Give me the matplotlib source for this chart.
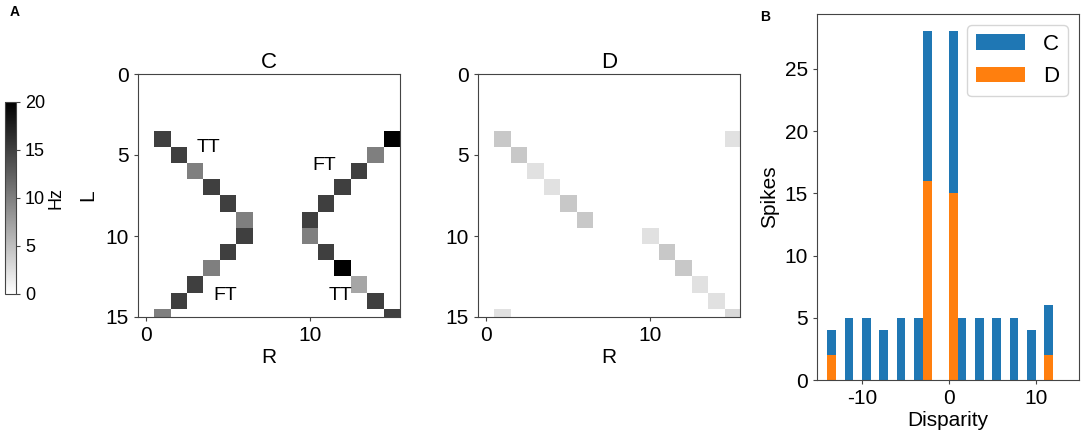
import numpy as np
import matplotlib
matplotlib.use("Agg")
import matplotlib.pyplot as plt

plt.rcParams['font.family'] = ['Liberation Sans', 'DejaVu Sans']
plt.rcParams['axes.unicode_minus'] = False

# ---- data: heatmap C (row = L, col = R, value in Hz) ----
C_rows = [4, 5, 6, 7, 8, 9, 10, 11, 12, 13, 14, 15,
          4, 5, 6, 7, 8, 9, 10, 11, 12, 13, 14, 15]
C_cols = [1, 2, 3, 4, 5, 6, 6, 5, 4, 3, 2, 1,
          15, 14, 13, 12, 11, 10, 10, 11, 12, 13, 14, 15]
C_vals = [15, 15, 10, 15, 15, 10, 15, 15, 10, 15, 15, 10,
          20, 10, 15, 15, 15, 15, 10, 15, 20, 7, 15, 15]

# ---- data: heatmap D ----
D_rows = [4, 5, 6, 7, 8, 9, 10, 11, 12, 13, 14, 15, 15, 4]
D_cols = [1, 2, 3, 4, 5, 6, 10, 11, 12, 13, 14, 15, 1, 15]
D_vals = [4.3, 4.3, 2.4, 2.4, 4.3, 4.3, 2.4, 4.3, 4.3, 2.4, 2.4, 3, 2.4, 2.4]

# ---- data: disparity histogram ----
disparity = [-14, -12, -10, -8, -6, -4, -3, 0, 1, 3, 5, 7, 9, 11]
C_spikes = [4, 5, 5, 4, 5, 5, 28, 28, 5, 5, 5, 5, 4, 6]
D_spikes = [2, 0, 0, 0, 0, 0, 16, 15, 0, 0, 0, 0, 0, 2]

N = 16
def build(rows, cols, vals):
    m = np.zeros((N, N))
    for r, c, v in zip(rows, cols, vals):
        m[r, c] = v
    return m

matC = build(C_rows, C_cols, C_vals)
matD = build(D_rows, D_cols, D_vals)

W, H = 1084, 432
fig = plt.figure(figsize=(W / 100, H / 100), dpi=100)

def fx(px):
    return px / W

def fy(py):
    return 1 - py / H

FS = 15
spine_col = '#444444'

axC = fig.add_axes([fx(138), fy(317), fx(262), (317 - 74) / H])
axD = fig.add_axes([fx(478), fy(317), fx(262), (317 - 74) / H])
axB = fig.add_axes([fx(817), fy(380), fx(262), (380 - 14) / H])
cax = fig.add_axes([fx(5), fy(294), fx(11), (294 - 102) / H])

for ax, mat, title in [(axC, matC, 'C'), (axD, matD, 'D')]:
    im = ax.imshow(mat, cmap='gray_r', vmin=0, vmax=20, aspect='auto',
                   interpolation='nearest')
    ax.set_xlim(-0.5, 15.5)
    ax.set_ylim(15, 0)
    ax.set_xticks([0, 10])
    ax.set_yticks([0, 5, 10, 15])
    ax.tick_params(labelsize=FS, length=3, color=spine_col)
    ax.set_title(title, fontsize=FS + 1, pad=4)
    ax.set_xlabel('R', fontsize=FS, labelpad=2)
    for s in ax.spines.values():
        s.set_color(spine_col)

axC.set_ylabel('L', fontsize=FS, labelpad=6)

# annotations on C
axC.text(3.8, 4.55, 'TT', fontsize=FS - 1, ha='center', va='center')
axC.text(4.8, 13.65, 'FT', fontsize=FS - 1, ha='center', va='center')
axC.text(10.85, 5.65, 'FT', fontsize=FS - 1, ha='center', va='center')
axC.text(11.85, 13.65, 'TT', fontsize=FS - 1, ha='center', va='center')

cb = fig.colorbar(im, cax=cax, ticks=[0, 5, 10, 15, 20])
cb.ax.tick_params(labelsize=13, length=3, color=spine_col)
cb.set_label('Hz', fontsize=13, labelpad=2)
cb.outline.set_edgecolor(spine_col)

# bar chart
axB.bar(disparity, C_spikes, width=1, align='edge', color='#1f77b4', label='C')
axB.bar(disparity, D_spikes, width=1, align='edge', color='#ff7f0e', label='D')
axB.set_xlim(-15.2, 15.0)
axB.set_ylim(0, 29.4)
axB.set_xticks([-10, 0, 10])
axB.set_yticks([0, 5, 10, 15, 20, 25])
axB.tick_params(labelsize=FS, length=3, color=spine_col)
axB.set_xlabel('Disparity', fontsize=FS, labelpad=2)
axB.set_ylabel('Spikes', fontsize=FS, labelpad=4)
for s in axB.spines.values():
    s.set_color(spine_col)
axB.legend(loc='upper right', fontsize=FS + 1, handlelength=2.2)

fig.text(fx(10), fy(16), 'A', fontsize=10, fontweight='bold')
fig.text(fx(760), fy(21), 'B', fontsize=10, fontweight='bold')

fig.savefig('out.png', dpi=100)
